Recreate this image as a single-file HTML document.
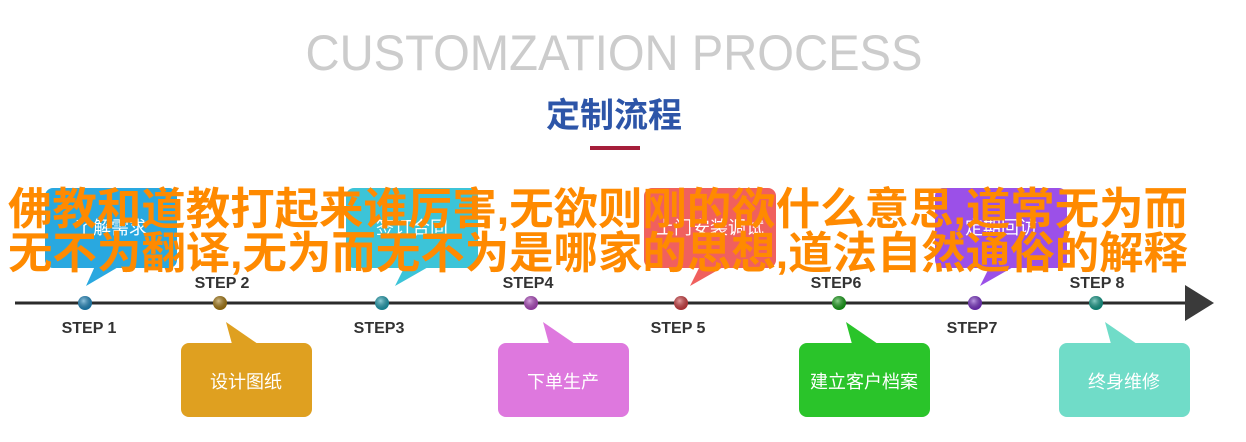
<!DOCTYPE html>
<html><head><meta charset="utf-8"><style>
html,body{margin:0;padding:0;background:#fff;}
svg{display:block;}
</style></head><body>
<svg width="1246" height="442" viewBox="0 0 1246 442" xmlns="http://www.w3.org/2000/svg">
<defs>
<radialGradient id="g" cx="40%" cy="35%" r="65%"><stop offset="0" stop-color="#fff" stop-opacity="0.5"/><stop offset="1" stop-color="#000" stop-opacity="0.2"/></radialGradient>
</defs>
<text x="614" y="70" text-anchor="middle" font-family="Liberation Sans, sans-serif" font-size="50" fill="#cccccc" textLength="617" lengthAdjust="spacingAndGlyphs">CUSTOMZATION PROCESS</text>
<text x="614" y="127" text-anchor="middle" font-family="Liberation Sans, Noto Sans CJK SC, sans-serif" font-size="34" font-weight="bold" fill="#2d55a8">定制流程</text>
<rect x="590" y="146" width="50" height="4" fill="#a51e3a"/>

<g font-family="Liberation Sans, Noto Sans CJK SC, sans-serif" font-size="18" fill="#fff" text-anchor="middle">
<rect x="45" y="188" width="132" height="80" rx="8" fill="#29a8e0"/><polygon points="95,266 120,266 86,286" fill="#29a8e0"/>
<text x="111" y="234">了解需求</text>
<rect x="346" y="188" width="132" height="80" rx="8" fill="#3cc4d8"/><polygon points="405,266 430,266 395,286" fill="#3cc4d8"/>
<text x="412" y="234">签订合同</text>
<rect x="644" y="188" width="132" height="80" rx="8" fill="#f0605e"/><polygon points="700,266 725,266 690,286" fill="#f0605e"/>
<text x="710" y="234">上门安装调试</text>
<rect x="935" y="188" width="132" height="80" rx="8" fill="#9b50e8"/><polygon points="990,266 1015,266 980,286" fill="#9b50e8"/>
<text x="1001" y="234">定期回访</text>
</g>

<line x1="15" y1="303" x2="1195" y2="303" stroke="#2b2b2b" stroke-width="3"/>
<polygon points="1185,285 1214,303 1185,321" fill="#3a3a3a"/>
<g>
<circle cx="85" cy="303" r="7" fill="#1e88c0"/><circle cx="85" cy="303" r="7" fill="url(#g)"/>
<circle cx="220" cy="303" r="7" fill="#a77910"/><circle cx="220" cy="303" r="7" fill="url(#g)"/>
<circle cx="382" cy="303" r="7" fill="#1d9eb0"/><circle cx="382" cy="303" r="7" fill="url(#g)"/>
<circle cx="531" cy="303" r="7" fill="#b048c0"/><circle cx="531" cy="303" r="7" fill="url(#g)"/>
<circle cx="681" cy="303" r="7" fill="#d03c40"/><circle cx="681" cy="303" r="7" fill="url(#g)"/>
<circle cx="839" cy="303" r="7" fill="#16a016"/><circle cx="839" cy="303" r="7" fill="url(#g)"/>
<circle cx="975" cy="303" r="7" fill="#7a30c8"/><circle cx="975" cy="303" r="7" fill="url(#g)"/>
<circle cx="1096" cy="303" r="7" fill="#109a88"/><circle cx="1096" cy="303" r="7" fill="url(#g)"/>
</g>
<g font-family="Liberation Sans, sans-serif" font-size="16" font-weight="bold" fill="#333" text-anchor="middle">
<text x="89" y="333">STEP 1</text>
<text x="222" y="288">STEP 2</text>
<text x="379" y="333">STEP3</text>
<text x="528" y="288">STEP4</text>
<text x="678" y="333">STEP 5</text>
<text x="836" y="288">STEP6</text>
<text x="972" y="333">STEP7</text>
<text x="1097" y="288">STEP 8</text>
</g>

<g font-family="Liberation Sans, Noto Sans CJK SC, sans-serif" font-size="18" fill="#fff" text-anchor="middle">
<rect x="181" y="343" width="131" height="74" rx="8" fill="#dfa020"/><polygon points="226,322 232,344 258,344" fill="#dfa020"/>
<text x="246" y="388">设计图纸</text>
<rect x="498" y="343" width="131" height="74" rx="8" fill="#de78de"/><polygon points="543,322 549,344 575,344" fill="#de78de"/>
<text x="563" y="388">下单生产</text>
<rect x="799" y="343" width="131" height="74" rx="8" fill="#2ac42a"/><polygon points="846,322 852,344 878,344" fill="#2ac42a"/>
<text x="864" y="388">建立客户档案</text>
<rect x="1059" y="343" width="131" height="74" rx="8" fill="#70dcc8"/><polygon points="1105,322 1111,344 1137,344" fill="#70dcc8"/>
<text x="1124" y="388">终身维修</text>
</g>

<g font-family="Liberation Sans, Noto Sans CJK SC, sans-serif" font-size="44" font-weight="bold" fill="#ff8a00">
<text x="8" y="224" textLength="1180" lengthAdjust="spacingAndGlyphs">佛教和道教打起来谁厉害,无欲则刚的欲什么意思,道常无为而</text>
<text x="8" y="268" textLength="1180" lengthAdjust="spacingAndGlyphs">无不为翻译,无为而无不为是哪家的思想,道法自然通俗的解释</text>
</g>
</svg>
</body></html>
